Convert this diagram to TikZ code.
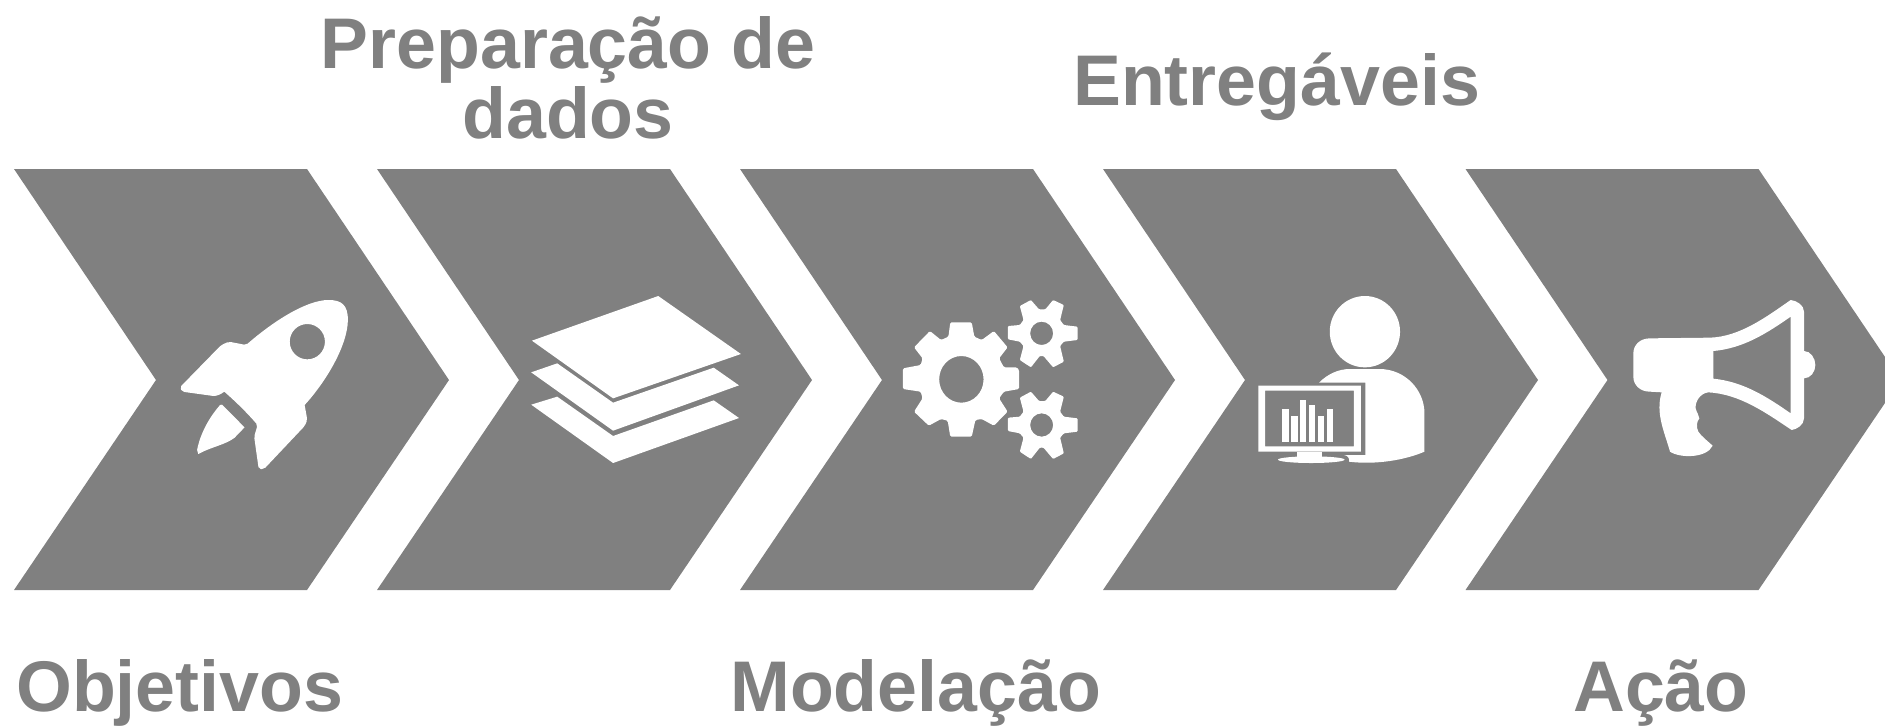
\documentclass[tikz,border=0pt]{standalone}
\usepackage{fontspec}
\setmainfont{Liberation Sans}
\usetikzlibrary{positioning}
\definecolor{iconbg}{HTML}{808080}

\tikzset{
    chevron/.style={fill=iconbg},
    icon/.style={fill=white, even odd rule},
    title/.style={text=iconbg, font=\fontsize{53.8}{52.5}\selectfont\bfseries, inner sep=0pt, anchor=base west},
}

\begin{document}
\begin{tikzpicture}[x=.75pt, y=-.75pt]
    \clip (0,0) rectangle (1885,726);

    % the five chevrons
    \foreach \pos in {14,377,740,1103,1465.5}
        \fill[chevron, shift={(\pos,0)}] (0,169) -- (293,169) -- (435,380) -- (293,590) -- (0,590) -- (142,380) -- cycle;

    \node[title]                (objetivos)   at (16,711)  {Objetivos};
    \node[title, align=center, anchor=base]  (preparacao)  at (568,138)  {Preparação de\\dados};
    \node[title]                (modelacao)   at (730,711) {Modelação};
    \node[title]                (entregaveis) at (1073,105) {Entregáveis};
    \node[title]                (acao)        at (1573,711) {Ação};

    % rocket
    \begin{scope}[shift={(160,270)}, x=.287pt, y=-.25pt]
        \fill[icon] (225,225) .. controls (300,150) and (385,90) .. (440,90) .. controls (475,90) and (491,105) .. (491,150)
            .. controls (490,230) and (430,340) .. (378,405) [rounded corners=1.5pt] -- (385,450) -- (378,468) -- (272,597) -- (258,597) -- (246,500) -- (255,465)
            [sharp corners] .. controls (225,425) and (195,392) .. (168,365) .. controls (160,372) and (150,378) .. (140,378) [rounded corners=1.5pt] -- (58,365) -- (52,352) -- (160,225) -- (180,215) -- cycle
            [sharp corners] (385,215) ellipse [x radius=46, y radius=53];
        \fill[icon] (162,404) -- (221,472) -- (195,503) .. controls (170,525) and (135,530) .. (100,552) -- (97,540) .. controls (105,490) and (130,440) .. (157,405) -- cycle;

        % layers
        \fill[icon] (972,212) -- (1302,78) -- (1518,252) -- (1184,385) -- cycle;
        \fill[icon] (970,307) -- (1038,280) -- (1184,398) -- (1447,293) -- (1513,346) -- (1184,482) -- cycle;
        \fill[icon] (970,404) -- (1038,380) -- (1184,498) -- (1447,391) -- (1513,444) -- (1184,579) -- cycle;
    \end{scope}

    % gears
    \begin{scope}[shift={(880,270)}, x=.2774pt, y=-.25pt]
        \fill[icon, rounded corners=1pt] (190,157) -- (248,157) -- (255,200) -- (275,210) -- (308,183) -- (345,232) -- (322,265) -- (335,292) -- (370,292) -- (376,300)
            -- (376,357) -- (335,365) -- (322,385) -- (345,425) -- (308,467) -- (275,447) -- (258,450) -- (248,500) -- (190,500) -- (183,452) -- (165,447) -- (132,467)
            -- (92,425) -- (115,385) -- (110,365) -- (62,357) -- (62,295) -- (110,285) -- (115,265) -- (92,232) -- (135,183) -- (165,210) -- (185,200) -- cycle
            (220,328) ellipse [x radius=60, y radius=70];
        \foreach \posy in {190,465}
            \fill[icon, shift={(437,\posy)}, rounded corners=.7pt] (10,-72) -- (31,-100) -- (60,-85) -- (50,-40) -- (60,-25) -- (97,-20) -- (97,20) -- (60,25) -- (50,38) -- (60,85)
                -- (31,102) -- (5,68) -- (-5,68) -- (-29,102) -- (-59,80) -- (-49,38) -- (-59,25) -- (-91,18) -- (-91,-22) -- (-59,-25) -- (-49,-40) -- (-59,-82) -- (-29,-100) -- (-7,-72) -- cycle
                (0,0) ellipse [x radius=31, y radius=35];

        % person at the screen
        \fill[icon] (1311,185) ellipse [x radius=95, y radius=107];
        \fill[icon] (1187,338) .. controls (1210,312) and (1240,297) .. (1270,297) -- (1350,297) .. controls (1420,297) and (1472,360) .. (1472,430) -- (1472,545)
            .. controls (1420,570) and (1340,585) .. (1268,575) .. controls (1270,565) and (1265,557) .. (1255,555) -- (1312,555) -- (1312,338) -- cycle;
        \fill[icon] (1023,347) rectangle (1300,545) (1041,362) rectangle (1281,529);
        \fill[icon] (1128,545) rectangle (1194,562);
        \fill[icon] (1166,569) ellipse [x radius=90, y radius=10];
        \foreach \barx/\bary in {1088/417,1112/438,1136/390,1160/404,1184/438,1208/417}
            \fill[icon] (\barx,\bary) rectangle ++(17,{515-\bary});
    \end{scope}

    % megaphone
    \begin{scope}[shift={(1600,270)}, x=.25pt, y=-.25pt]
        \fill[icon] (150,205) -- (330,203) .. controls (420,200) and (500,140) .. (572,90) .. controls (590,92) and (612,105) .. (612,125) -- (612,243)
            .. controls (632,243) and (646,265) .. (646,285) .. controls (646,305) and (632,325) .. (612,325) -- (612,445) .. controls (612,465) and (590,478) .. (575,480)
            .. controls (500,430) and (420,372) .. (325,367) .. controls (300,370) and (285,395) .. (287,415) .. controls (290,430) and (298,435) .. (298,445) .. controls (290,455) and (288,470) .. (295,485)
            .. controls (305,500) and (325,515) .. (338,527) .. controls (320,565) and (240,565) .. (210,545) .. controls (195,490) and (165,430) .. (185,367)
            -- (150,365) .. controls (120,365) and (100,345) .. (100,320) -- (100,250) .. controls (100,225) and (120,205) .. (150,205)
            (340,243) .. controls (430,235) and (500,190) .. (572,140) -- (572,430) .. controls (500,380) and (430,335) .. (340,326) -- cycle;
    \end{scope}
\end{tikzpicture}
\end{document}
